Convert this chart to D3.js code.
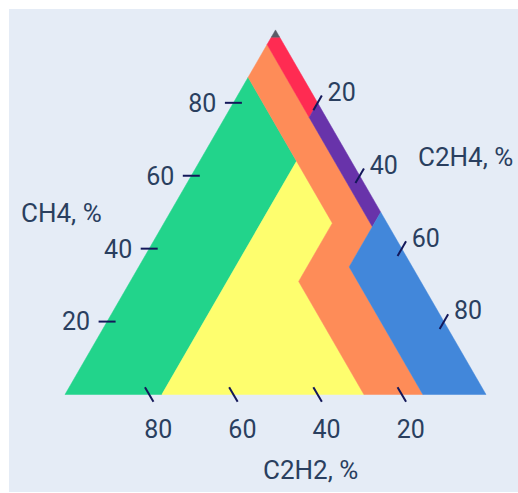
<!DOCTYPE html>
<html>
<head>
<meta charset="utf-8">
<script src="https://cdn.jsdelivr.net/npm/d3@7"></script>
<style>
  body { margin: 0; background: #fff; }
  text { font-family: Roboto, sans-serif; fill: #2a3f5f; }
</style>
</head>
<body>
<div id="chart"></div>
<script>
// Duval triangle zones, vertices as [CH4, C2H4, C2H2] in %
var zoneNames = ["D1", "D2", "DT", "T1", "T2", "T3", "PD"];
var zoneD1 = [[87, 0, 13], [0, 0, 100], [0, 23, 77], [64, 23, 13]];
var zoneD2 = [[64, 23, 13], [0, 23, 77], [0, 71, 29], [31, 40, 29], [47, 40, 13]];
var zoneDT = [[96, 0, 4], [46, 50, 4], [35, 50, 15], [0, 85, 15], [0, 71, 29],
              [31, 40, 29], [47, 40, 13], [64, 23, 13], [87, 0, 13]];
var zoneT1 = [[98, 0, 2], [98, 2, 0], [80, 20, 0], [76, 20, 4], [96, 0, 4]];
var zoneT2 = [[80, 20, 0], [50, 50, 0], [46, 50, 4], [76, 20, 4]];
var zoneT3 = [[50, 50, 0], [0, 100, 0], [0, 85, 15], [35, 50, 15], [46, 50, 4]];
var zonePD = [[100, 0, 0], [98, 2, 0], [98, 0, 2]];

var tickValues = [20, 40, 60, 80];
var axisTitles = ["CH4, %", "C2H4, %", "C2H2, %"];

var zoneColors = {
    D1: "#22d48b", D2: "#fefe6e", DT: "#fe8c58",
    T1: "#ff2b52", T2: "#6833aa", T3: "#4287da", PD: "#5b5b66"
};

var width = 518, height = 493;
var left = 65, right = 486, base = 394.5;
var side = right - left;
var apexY = base - side * Math.sqrt(3) / 2;

var svg = d3.select("#chart").append("svg")
    .attr("width", width)
    .attr("height", height);

svg.append("rect")
    .attr("x", 9).attr("y", 9)
    .attr("width", width - 9).attr("height", 483)
    .attr("fill", "#e5ecf6");

var x = d3.scaleLinear().domain([0, 100]).range([left, right]);
var y = d3.scaleLinear().domain([0, 100]).range([base, apexY]);

// ternary [CH4, C2H4, C2H2] -> pixel
function px(p) { return x(p[1] + p[0] / 2); }
function py(p) { return y(p[0]); }

var line = d3.line()
    .x(function(d) { return px(d); })
    .y(function(d) { return py(d); })
    .curve(d3.curveLinearClosed);

var zones = {D1: zoneD1, D2: zoneD2, DT: zoneDT, T1: zoneT1, T2: zoneT2, T3: zoneT3, PD: zonePD};

svg.append("g").selectAll("path")
    .data(zoneNames).enter()
    .append("path")
    .attr("d", function(d) { return line(zones[d]); })
    .attr("fill", function(d) { return zoneColors[d]; })
    .attr("stroke", function(d) { return zoneColors[d]; })
    .attr("stroke-width", 0.5);

//////////////////
//ticks & labels//
//////////////////
var tl = 8.5;
var c = 0.5, s = Math.sqrt(3) / 2;
var tickColor = "#14185a";
var fontSize = "25px";

// CH4 on left edge, horizontal ticks
var gA = svg.append("g");
tickValues.forEach(function(v) {
    var p = [v, 0, 100 - v];
    gA.append("line")
        .attr("x1", px(p) - tl).attr("x2", px(p) + tl)
        .attr("y1", py(p)).attr("y2", py(p))
        .attr("stroke", tickColor).attr("stroke-width", 2);
    gA.append("text")
        .attr("x", px(p) - 17).attr("y", py(p))
        .attr("dy", "0.355em")
        .attr("text-anchor", "end")
        .style("font-size", fontSize)
        .text(v);
});

// C2H4 on right edge, "/" ticks
var gC = svg.append("g");
tickValues.forEach(function(v) {
    var p = [100 - v, v, 0];
    gC.append("line")
        .attr("x1", px(p) - tl * c).attr("x2", px(p) + tl * c)
        .attr("y1", py(p) + tl * s).attr("y2", py(p) - tl * s)
        .attr("stroke", tickColor).attr("stroke-width", 2);
    gC.append("text")
        .attr("x", px(p) + 10).attr("y", py(p) - 11)
        .attr("dy", "0.355em")
        .attr("text-anchor", "start")
        .style("font-size", fontSize)
        .text(v);
});

// C2H2 on bottom edge, "\" ticks
var gB = svg.append("g");
tickValues.forEach(function(v) {
    var p = [0, 100 - v, v];
    gB.append("line")
        .attr("x1", px(p) - tl * c).attr("x2", px(p) + tl * c)
        .attr("y1", py(p) - tl * s).attr("y2", py(p) + tl * s)
        .attr("stroke", tickColor).attr("stroke-width", 2);
    gB.append("text")
        .attr("x", px(p) + 9).attr("y", py(p) + 34.5)
        .attr("dy", "0.355em")
        .attr("text-anchor", "middle")
        .style("font-size", fontSize)
        .text(v);
});

// axis titles
svg.append("text").attr("x", 21).attr("y", 222)
    .style("font-size", "26px").text(axisTitles[0]);
svg.append("text").attr("x", 418).attr("y", 166)
    .style("font-size", "26px").text(axisTitles[1]);
svg.append("text").attr("x", 263).attr("y", 479)
    .style("font-size", "26px").text(axisTitles[2]);
</script>
</body>
</html>
